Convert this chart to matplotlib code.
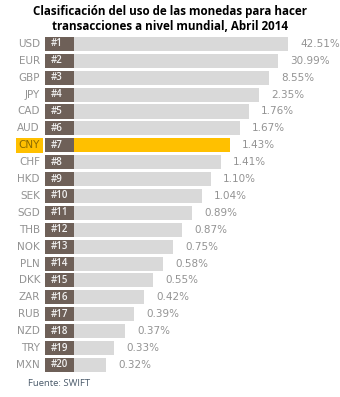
import matplotlib.pyplot as plt

currencies = ["USD", "EUR", "GBP", "JPY", "CAD", "AUD", "CNY", "CHF", "HKD", "SEK",
              "SGD", "THB", "NOK", "PLN", "DKK", "ZAR", "RUB", "NZD", "TRY", "MXN"]
shares = [42.51, 30.99, 8.55, 2.35, 1.76, 1.67, 1.43, 1.41, 1.10, 1.04,
          0.89, 0.87, 0.75, 0.58, 0.55, 0.42, 0.39, 0.37, 0.33, 0.32]
ranks = ["#%d" % (i + 1) for i in range(len(currencies))]
# bar lengths in the original are rank-based, not proportional
bar_len = [243, 233, 224, 214, 204, 195, 185, 176, 166, 157,
           147, 137, 128, 118, 108, 99, 89, 80, 69, 61]
highlight = "CNY"

grey = "#d9d9d9"
box_col = "#6e6058"
yellow = "#ffc000"
txt_col = "#939393"

fig = plt.figure(figsize=(3.4, 3.97), dpi=100)
ax = fig.add_axes([0, 0, 1, 1])
ax.set_xlim(-45, 295)
ax.set_ylim(20.9, -2.6)
ax.axis("off")

box_w = 29
for i, cur in enumerate(currencies):
    col = yellow if cur == highlight else grey
    ax.barh(i, bar_len[i], height=0.83, left=0, color=col, edgecolor="none")
    ax.barh(i, box_w, height=0.83, left=0, color=box_col, edgecolor="none")
    ax.text(6, i, ranks[i], ha="left", va="center", color="#f2f2f2",
            fontsize=7, fontweight="semibold", family="Open Sans")
    ax.text(bar_len[i] + 12, i, "%.2f%%" % shares[i], ha="left", va="center",
            color=txt_col, fontsize=7.5)
    if cur == highlight:
        ax.text(-5, i, cur, ha="right", va="center", color="#8a6a00", fontsize=7.5,
                bbox=dict(boxstyle="square,pad=0.25", fc=yellow, ec="none"))
    else:
        ax.text(-5, i, cur, ha="right", va="center", color=txt_col, fontsize=7.5)

fig.text(0.5, 0.988, "Clasificación del uso de las monedas para hacer\ntransacciones a nivel mundial, Abril 2014",
         ha="center", va="top", fontsize=8.4, fontweight="bold", color="black",
         family="Open Sans", linespacing=1.2)
fig.text(28 / 340, 1 - 383 / 397, "Fuente: SWIFT", ha="left", va="center",
         fontsize=6.8, color="#4a5a6a", family="Open Sans")

fig.savefig("out.png", dpi=100)
